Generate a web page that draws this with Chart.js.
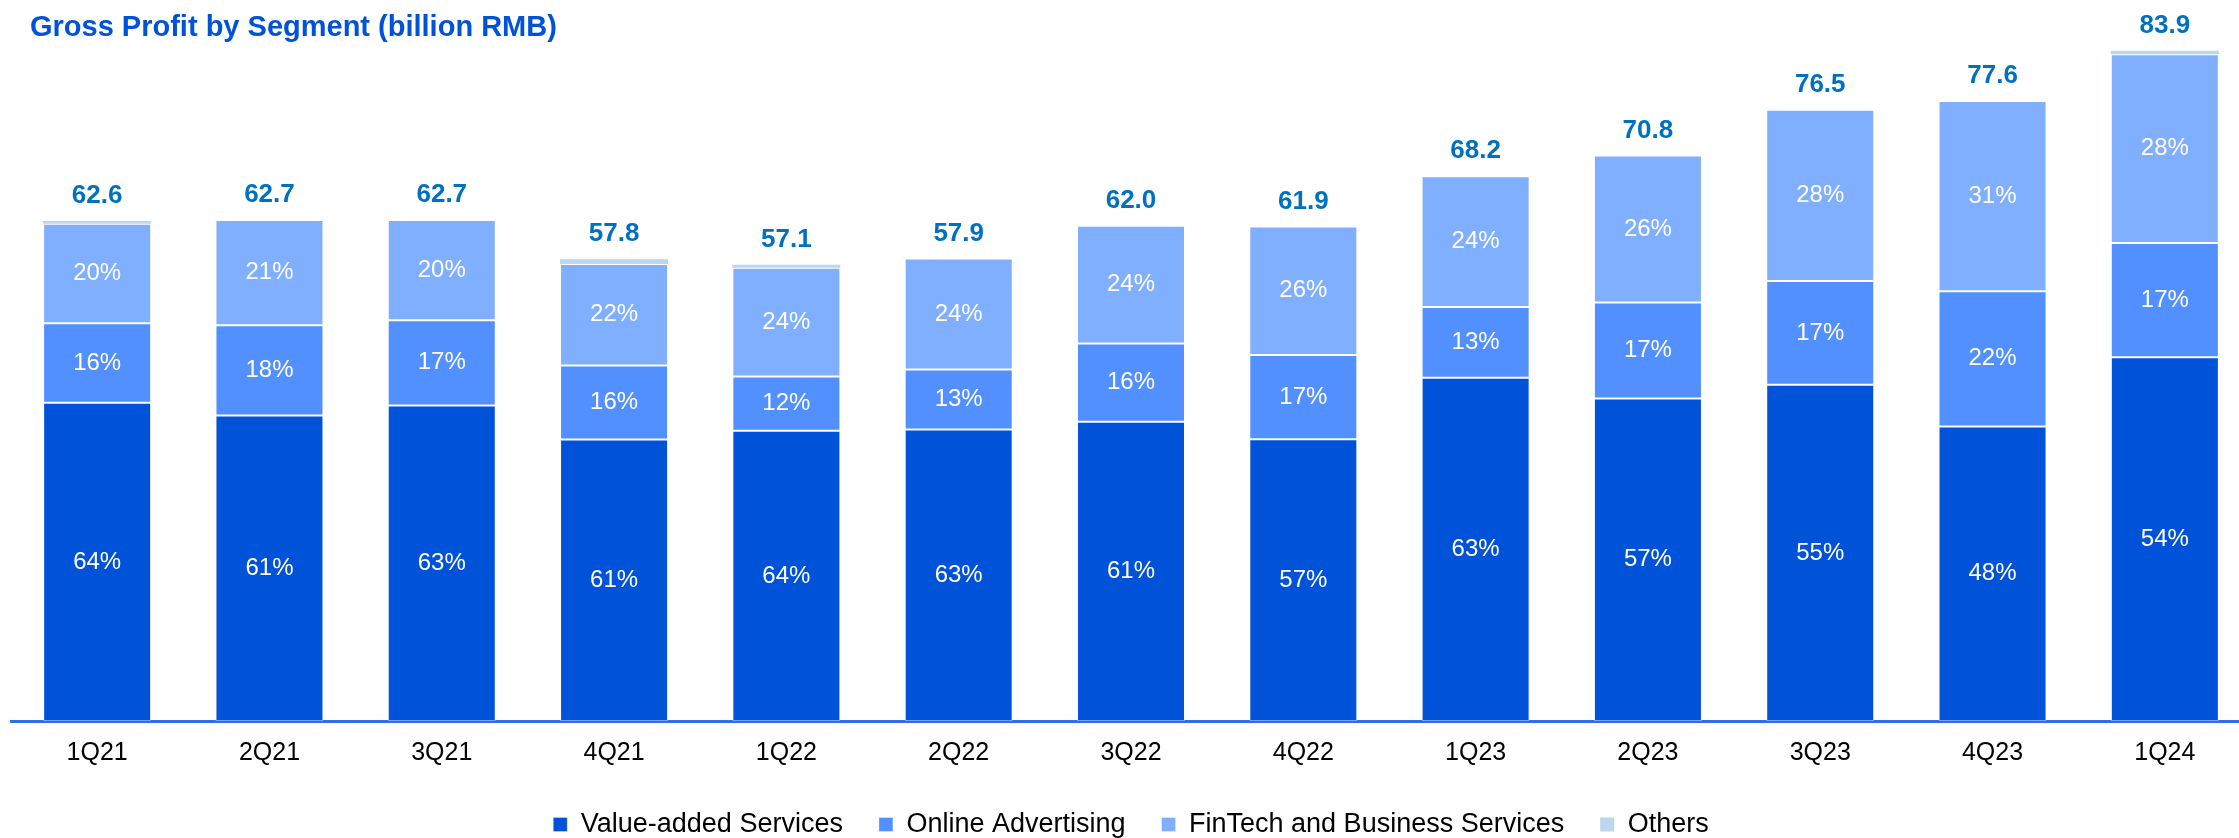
<!DOCTYPE html>
<html>
<head>
<meta charset="utf-8">
<title>Gross Profit by Segment</title>
<script src="https://cdn.jsdelivr.net/npm/chart.js@4.4.1/dist/chart.umd.min.js"></script>
<style>
  html, body { margin: 0; padding: 0; background: #fff; overflow: hidden; }
  #wrap { width: 2239px; height: 838px; overflow: hidden; }
  canvas { display: block; }
</style>
</head>
<body>
<div id="wrap"><canvas id="gpChart" width="2262" height="848"></canvas></div>
<script>
// quarterly gross profit, billion RMB
const quarters = ['1Q21', '2Q21', '3Q21', '4Q21', '1Q22', '2Q22', '3Q22', '4Q22', '1Q23', '2Q23', '3Q23', '4Q23', '1Q24'];
const totals = [62.6, 62.7, 62.7, 57.8, 57.1, 57.9, 62.0, 61.9, 68.2, 70.8, 76.5, 77.6, 83.9];

// segment shares in %, as labelled
const vasPct = [64, 61, 63, 61, 64, 63, 61, 57, 63, 57, 55, 48, 54];
const adsPct = [16, 18, 17, 16, 12, 13, 16, 17, 13, 17, 17, 22, 17];
const fintechPct = [20, 21, 20, 22, 24, 24, 24, 26, 24, 26, 28, 31, 28];

// small "Others" slice on top, billion RMB
const othersBn = [0.37, 0, 0, 0.6, 0.35, 0, 0, 0, 0, 0, 0, 0, 0.45];

const FONT = "'Liberation Sans', Arial, sans-serif";
const sharePct = [vasPct, adsPct, fintechPct];

// split what's left after Others by the labelled shares
function segmentValues(pcts) {
    return totals.map((t, i) => {
        const sum = vasPct[i] + adsPct[i] + fintechPct[i];
        return (t - othersBn[i]) * pcts[i] / sum;
    });
}

const labelPlugin = {
    id: 'gpLabels',
    afterDatasetsDraw(chart) {
        const ctx = chart.ctx;
        const xScale = chart.scales.x;
        const yScale = chart.scales.y;
        ctx.save();
        ctx.textAlign = 'center';
        ctx.textBaseline = 'middle';

        // percentages inside segments
        ctx.font = '24px ' + FONT;
        ctx.fillStyle = '#ffffff';
        sharePct.forEach((pcts, di) => {
            chart.getDatasetMeta(di).data.forEach((bar, i) => {
                ctx.fillText(pcts[i] + '%', bar.x, (bar.y + bar.base) / 2);
            });
        });

        // totals above each stack
        ctx.font = 'bold 26px ' + FONT;
        ctx.fillStyle = '#0070C0';
        totals.forEach((t, i) => {
            ctx.fillText(t.toFixed(1), xScale.getPixelForValue(i), yScale.getPixelForValue(t) - 25);
        });

        // heading
        ctx.textAlign = 'left';
        ctx.font = 'bold 29px ' + FONT;
        ctx.fillStyle = '#0052D9';
        ctx.fillText('Gross Profit by Segment (billion RMB)', 30, 28);
        ctx.restore();
    }
};

const barStyle = {
    borderColor: 'rgba(255, 255, 255, 0.35)',
    borderWidth: 1,
    borderSkipped: false,
    barPercentage: 0.627,
    categoryPercentage: 1.0
};

new Chart(document.getElementById('gpChart'), {
    type: 'bar',
    data: {
        labels: quarters,
        datasets: [
            { label: 'Value-added Services', data: segmentValues(vasPct), backgroundColor: '#0052D9', ...barStyle },
            { label: 'Online Advertising', data: segmentValues(adsPct), backgroundColor: '#5290FF', ...barStyle },
            { label: 'FinTech and Business Services', data: segmentValues(fintechPct), backgroundColor: '#80AFFF', ...barStyle },
            { label: 'Others', data: othersBn, backgroundColor: '#BCD6EE', ...barStyle, borderWidth: 0 }
        ]
    },
    options: {
        responsive: false,
        devicePixelRatio: 1,
        animation: false,
        layout: {
            padding: { top: 2, left: 11, right: 11, bottom: 0 }
        },
        plugins: {
            legend: {
                position: 'bottom',
                labels: {
                    boxWidth: 14,
                    boxHeight: 14,
                    padding: 36,
                    color: '#000',
                    font: { family: FONT, size: 27 }
                }
            },
            tooltip: { enabled: false },
            title: { display: false }
        },
        scales: {
            x: {
                stacked: true,
                grid: { display: false, drawTicks: true, tickLength: 10 },
                border: { display: true, color: '#2F6FE5', width: 3 },
                ticks: {
                    color: '#000',
                    padding: 7,
                    font: { family: FONT, size: 25 }
                }
            },
            y: {
                stacked: true,
                display: false,
                min: 0,
                max: 90
            }
        }
    },
    plugins: [labelPlugin]
});
</script>
</body>
</html>
